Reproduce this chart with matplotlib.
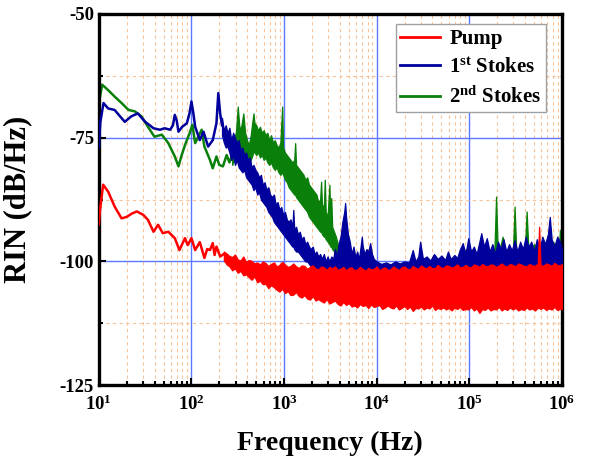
import numpy as np
import matplotlib
matplotlib.use('Agg')
import matplotlib.pyplot as plt
from matplotlib.ticker import MultipleLocator, FixedLocator, FuncFormatter, LogLocator, NullFormatter
from matplotlib.lines import Line2D

plt.rcParams['font.family'] = 'Liberation Serif'
plt.rcParams['font.weight'] = 'bold'
plt.rcParams['mathtext.fontset'] = 'custom'
plt.rcParams['mathtext.rm'] = 'Liberation Serif:bold'
plt.rcParams['mathtext.bf'] = 'Liberation Serif:bold'
plt.rcParams['mathtext.it'] = 'Liberation Serif:bold'
plt.rcParams['axes.unicode_minus'] = False

# ---- values: log10(frequency / Hz) and RIN in dB/Hz ----
# low-frequency part, a single clean trace
pump_logf = [1.00, 1.01, 1.046, 1.10, 1.17, 1.245, 1.30, 1.36, 1.41, 1.48, 1.53, 1.59, 1.64,
             1.69, 1.75, 1.82, 1.87, 1.93, 1.96, 2.00, 2.04, 2.09, 2.14, 2.17, 2.20, 2.23,
             2.25, 2.27, 2.31, 2.35]
pump_db = [-92.5, -90.0, -84.5, -85.9, -88.9, -91.3, -91.0, -90.3, -89.9, -90.6, -91.6, -94.0, -92.6,
           -94.3, -94.0, -95.3, -97.7, -95.3, -96.7, -95.3, -97.7, -96.1, -99.3, -97.5, -97.7, -96.3,
           -98.7, -97.0, -99.0, -98.5]

stokes1_logf = [1.00, 1.015, 1.05, 1.10, 1.17, 1.22, 1.28, 1.35, 1.42, 1.50, 1.55, 1.59, 1.66,
                1.71, 1.77, 1.80, 1.82, 1.84, 1.86, 1.90, 1.95, 1.98, 2.00, 2.02, 2.04, 2.09,
                2.13, 2.18, 2.23, 2.27, 2.29, 2.31, 2.33]
stokes1_db = [-77.0, -72.0, -68.0, -69.1, -69.4, -70.5, -71.8, -70.7, -70.1, -71.8, -72.5, -73.1, -73.4,
              -73.1, -73.4, -72.5, -70.4, -71.5, -73.8, -72.8, -72.1, -70.0, -67.7, -70.0, -72.8, -75.5,
              -73.8, -76.8, -75.5, -72.1, -66.0, -70.1, -72.5]

stokes2_logf = [1.00, 1.036, 1.10, 1.17, 1.245, 1.32, 1.39, 1.46, 1.53, 1.60, 1.68, 1.75, 1.82,
                1.86, 1.89, 1.93, 1.98, 2.01, 2.04, 2.11, 2.14, 2.20, 2.23, 2.27, 2.30, 2.34,
                2.38, 2.41, 2.44]
stokes2_db = [-68.0, -64.3, -65.4, -66.7, -68.0, -69.4, -69.7, -70.7, -72.8, -74.8, -74.4, -76.1, -78.8,
              -80.8, -78.8, -76.5, -74.1, -72.4, -76.1, -73.4, -76.8, -79.5, -81.2, -78.8, -80.5, -80.8,
              -78.5, -80.0, -78.5]

# noisy part: upper and lower edge of the trace at each frequency
pump_band_logf = [2.35, 2.38, 2.41, 2.44, 2.47, 2.50, 2.53, 2.56, 2.59, 2.62, 2.65, 2.68, 2.71,
                  2.74, 2.77, 2.80, 2.83, 2.86, 2.89, 2.92, 2.95, 2.98, 3.01, 3.04, 3.07, 3.10,
                  3.13, 3.16, 3.19, 3.22, 3.25, 3.28, 3.31, 3.34, 3.37, 3.40, 3.43, 3.46, 3.49,
                  3.52, 3.55, 3.58, 3.61, 3.64, 3.67, 3.70, 3.73, 3.76, 3.79, 3.82, 3.85, 3.88,
                  3.91, 3.94, 3.97, 4.00, 4.03, 4.06, 4.09, 4.12, 4.15, 4.18, 4.21, 4.24, 4.27,
                  4.30, 4.33, 4.36, 4.39, 4.42, 4.45, 4.48, 4.51, 4.54, 4.57, 4.60, 4.63, 4.66,
                  4.69, 4.72, 4.75, 4.78, 4.81, 4.84, 4.87, 4.90, 4.93, 4.96, 4.99, 5.02, 5.05,
                  5.08, 5.11, 5.14, 5.17, 5.20, 5.23, 5.26, 5.29, 5.32, 5.35, 5.38, 5.41, 5.44,
                  5.47, 5.50, 5.53, 5.56, 5.59, 5.62, 5.65, 5.68, 5.71, 5.74, 5.755, 5.77, 5.80,
                  5.83, 5.86, 5.89, 5.92, 5.95, 5.98, 6.00]
pump_band_hi = [-98.0, -98.4, -98.9, -99.1, -98.6, -99.6, -99.8, -99.0, -100.1, -99.7, -99.9, -100.4, -100.2,
                -100.6, -100.0, -100.3, -100.9, -100.5, -100.2, -101.0, -100.7, -100.1, -100.6, -101.1, -100.9, -100.4,
                -101.0, -101.3, -100.8, -100.9, -101.5, -101.1, -100.8, -101.4, -101.6, -101.0, -101.2, -101.7, -101.1,
                -101.4, -101.0, -101.7, -101.5, -101.1, -101.8, -101.3, -101.2, -101.8, -101.6, -101.1, -101.5, -101.9,
                -101.3, -101.6, -101.5, -101.0, -101.8, -101.4, -101.2, -101.7, -101.6, -101.0, -101.4, -101.7, -101.2,
                -101.0, -101.5, -101.6, -100.9, -101.3, -101.5, -100.8, -101.2, -101.4, -100.9, -101.4, -101.3, -100.7,
                -101.2, -101.3, -100.8, -100.9, -101.3, -101.0, -100.6, -101.2, -101.1, -100.7, -101.1, -101.2, -100.6,
                -100.8, -101.1, -100.5, -100.9, -101.0, -100.6, -100.7, -101.1, -100.8, -100.4, -100.9, -101.0, -100.5,
                -100.7, -101.0, -100.4, -100.6, -100.9, -101.0, -100.5, -100.8, -100.9, -100.4, -93.0, -100.7, -100.9,
                -100.4, -100.6, -100.9, -100.3, -100.7, -100.8, -100.5]
pump_band_lo = [-99.8, -100.6, -101.0, -101.8, -101.4, -102.3, -101.9, -102.8, -102.6, -103.2, -103.7, -103.0, -104.2,
                -103.9, -104.6, -104.5, -105.4, -104.8, -105.2, -105.7, -106.1, -105.5, -106.4, -106.0, -106.8, -106.7,
                -106.2, -107.0, -107.3, -106.8, -107.5, -107.7, -107.0, -107.9, -107.6, -108.0, -108.3, -107.6, -108.5,
                -108.2, -107.9, -108.6, -108.9, -108.2, -108.8, -108.4, -109.1, -108.9, -109.3, -108.6, -109.0, -108.8,
                -109.4, -108.7, -109.2, -109.0, -108.8, -109.6, -109.3, -108.9, -109.3, -109.5, -108.9, -109.7, -109.4,
                -109.0, -109.6, -109.1, -110.0, -109.4, -109.5, -109.1, -109.7, -109.3, -109.5, -108.9, -109.8, -109.4,
                -109.6, -109.3, -109.7, -109.4, -109.9, -109.3, -109.6, -109.2, -109.8, -109.6, -109.7, -109.2, -109.9,
                -109.5, -110.4, -109.6, -109.8, -109.3, -109.9, -109.6, -109.7, -109.2, -109.9, -109.5, -109.8, -109.3,
                -109.7, -109.4, -109.9, -109.6, -109.8, -109.3, -109.7, -109.5, -109.9, -109.4, -109.4, -109.6, -109.3,
                -109.8, -109.5, -109.7, -109.2, -109.8, -109.6, -109.6]

stokes1_band_logf = [2.33, 2.35, 2.37, 2.39, 2.41, 2.43, 2.45, 2.47, 2.49, 2.51, 2.53, 2.55, 2.57,
                     2.59, 2.61, 2.63, 2.65, 2.67, 2.69, 2.71, 2.73, 2.75, 2.77, 2.79, 2.81, 2.83,
                     2.85, 2.87, 2.89, 2.91, 2.93, 2.95, 2.97, 2.99, 3.01, 3.03, 3.05, 3.07, 3.09,
                     3.10, 3.11, 3.13, 3.15, 3.17, 3.19, 3.21, 3.23, 3.25, 3.27, 3.29, 3.31, 3.33,
                     3.35, 3.37, 3.39, 3.41, 3.43, 3.45, 3.47, 3.49, 3.51, 3.53, 3.55, 3.57, 3.59,
                     3.61, 3.63, 3.65, 3.66, 3.67, 3.69, 3.71, 3.73, 3.75, 3.77, 3.79, 3.81, 3.83,
                     3.84, 3.85, 3.87, 3.89, 3.91, 3.93, 3.95, 3.97, 4.00, 4.05, 4.10, 4.15, 4.20,
                     4.25, 4.30, 4.35, 4.39, 4.42, 4.45, 4.47, 4.50, 4.54, 4.58, 4.62, 4.66, 4.70,
                     4.74, 4.77, 4.80, 4.84, 4.87, 4.90, 4.93, 4.96, 4.99, 5.02, 5.05, 5.08, 5.11,
                     5.13, 5.16, 5.19, 5.22, 5.25, 5.28, 5.31, 5.34, 5.37, 5.40, 5.43, 5.46, 5.49,
                     5.52, 5.55, 5.58, 5.61, 5.64, 5.67, 5.70, 5.73, 5.76, 5.79, 5.82, 5.85, 5.87,
                     5.89, 5.92, 5.95, 5.98, 6.00]
stokes1_band_hi = [-71.0, -73.5, -72.5, -74.0, -73.0, -75.5, -74.0, -75.0, -76.0, -75.5, -77.5, -77.0, -78.5,
                   -78.0, -79.5, -79.0, -81.0, -80.5, -81.5, -82.0, -83.0, -82.5, -84.5, -84.0, -85.5, -85.0,
                   -86.5, -87.0, -86.5, -88.5, -88.0, -89.5, -89.0, -90.5, -90.0, -91.5, -92.0, -91.5, -93.0,
                   -89.6, -93.5, -93.0, -94.5, -94.0, -95.5, -95.0, -96.5, -96.0, -97.0, -97.5, -97.0, -98.5,
                   -98.0, -99.0, -98.5, -99.5, -98.5, -100.0, -99.0, -100.0, -99.0, -99.5, -97.5, -99.0, -96.3,
                   -95.0, -92.0, -90.0, -88.2, -91.0, -94.5, -96.0, -98.5, -97.0, -99.0, -98.0, -99.5, -96.5,
                   -95.0, -97.0, -98.5, -97.5, -98.0, -96.3, -98.5, -99.5, -100.0, -100.5, -100.2, -100.6, -100.0,
                   -100.4, -100.0, -100.2, -97.7, -100.0, -99.0, -96.0, -99.5, -99.0, -99.8, -98.5, -99.5, -98.8,
                   -99.7, -98.0, -99.5, -98.7, -99.3, -97.5, -96.3, -98.5, -95.3, -98.0, -97.0, -98.5, -96.0,
                   -94.3, -97.0, -95.3, -98.0, -96.5, -98.5, -96.0, -97.5, -95.5, -98.0, -96.5, -97.8, -95.7,
                   -98.0, -96.0, -97.5, -95.0, -97.0, -96.0, -98.0, -95.5, -97.5, -95.0, -96.5, -94.5, -91.0,
                   -95.5, -97.0, -95.0, -96.0, -97.5]
stokes1_band_lo = [-74.5, -76.0, -77.0, -76.8, -78.0, -79.5, -78.5, -80.5, -79.5, -81.0, -81.5, -82.0, -81.5,
                   -83.0, -83.5, -84.0, -84.5, -85.6, -85.0, -86.5, -86.0, -87.5, -88.0, -88.5, -89.0, -90.0,
                   -90.5, -91.0, -92.0, -92.5, -93.0, -93.5, -94.0, -94.5, -95.0, -95.5, -96.0, -96.5, -97.0,
                   -97.0, -97.5, -98.0, -98.0, -98.5, -99.0, -99.5, -100.0, -100.0, -100.5, -101.0, -101.0, -101.5,
                   -102.0, -102.0, -102.5, -102.5, -103.0, -103.0, -103.5, -103.5, -103.5, -104.0, -104.0, -104.0, -103.5,
                   -103.0, -103.0, -103.0, -103.0, -103.0, -103.5, -104.0, -104.0, -104.0, -104.0, -104.0, -104.0, -104.0,
                   -104.0, -104.0, -104.0, -104.0, -104.0, -104.0, -104.0, -104.0, -104.0, -104.5, -104.5, -104.5, -104.5,
                   -104.5, -104.5, -104.5, -104.5, -104.5, -104.5, -104.5, -104.5, -104.5, -104.5, -104.5, -104.5, -104.5,
                   -104.5, -104.5, -104.5, -104.5, -104.5, -104.5, -104.5, -104.5, -104.5, -104.5, -104.5, -104.5, -104.5,
                   -104.5, -104.5, -104.5, -104.5, -104.5, -104.5, -104.5, -104.5, -104.5, -104.5, -104.5, -104.5, -104.5,
                   -104.5, -104.5, -104.5, -104.5, -104.5, -104.5, -104.5, -104.5, -104.5, -104.5, -104.5, -104.5, -104.5,
                   -104.5, -104.5, -104.5, -104.5, -104.5]

stokes2_band_logf = [2.44, 2.46, 2.48, 2.50, 2.52, 2.54, 2.56, 2.58, 2.60, 2.62, 2.64, 2.66, 2.67,
                     2.68, 2.70, 2.72, 2.74, 2.76, 2.78, 2.80, 2.82, 2.84, 2.86, 2.88, 2.90, 2.92,
                     2.94, 2.96, 2.98, 2.99, 3.01, 3.03, 3.05, 3.07, 3.09, 3.11, 3.12, 3.13, 3.15,
                     3.17, 3.19, 3.21, 3.23, 3.25, 3.27, 3.29, 3.31, 3.33, 3.35, 3.37, 3.39, 3.40,
                     3.41, 3.43, 3.44, 3.45, 3.47, 3.49, 3.50, 3.51, 3.52, 3.54, 3.56, 3.58, 3.60,
                     3.62, 3.64, 3.66, 3.72, 3.76, 3.80, 3.85, 3.90, 3.95, 4.00, 4.10, 4.20, 4.30,
                     4.40, 4.50, 4.60, 4.70, 4.80, 4.90, 4.97, 5.00, 5.10, 5.20, 5.27, 5.29, 5.31,
                     5.36, 5.40, 5.47, 5.49, 5.51, 5.55, 5.60, 5.62, 5.64, 5.70, 5.75, 5.80, 5.85,
                     5.90, 5.97, 5.98, 6.00]
stokes2_band_hi = [-76.5, -75.0, -74.0, -68.7, -73.5, -72.5, -70.1, -74.0, -75.5, -76.5, -74.5, -71.5, -70.1,
                   -72.0, -72.5, -73.5, -72.8, -74.0, -73.5, -74.5, -74.0, -75.5, -74.5, -76.0, -75.5, -76.5,
                   -77.0, -76.0, -68.7, -77.0, -78.0, -78.5, -79.0, -79.5, -80.0, -79.5, -76.1, -80.5, -81.0,
                   -81.5, -82.0, -82.5, -83.5, -83.0, -84.5, -85.0, -85.5, -86.0, -86.5, -88.0, -87.5, -83.9,
                   -88.5, -89.0, -83.5, -90.0, -91.0, -84.5, -91.5, -87.2, -93.0, -94.0, -95.0, -96.5, -97.0,
                   -98.0, -99.5, -100.0, -100.5, -100.2, -100.8, -100.4, -100.8, -100.5, -100.8, -100.5, -100.8, -100.5,
                   -100.6, -100.3, -100.0, -99.8, -99.5, -99.0, -97.5, -99.5, -99.0, -98.5, -99.0, -86.9, -99.0,
                   -95.0, -98.5, -99.0, -88.9, -99.0, -98.0, -98.0, -89.9, -98.0, -96.5, -98.0, -97.0, -98.0,
                   -96.0, -97.0, -93.6, -97.0]
stokes2_band_lo = [-80.5, -79.5, -80.0, -78.0, -79.0, -78.5, -79.0, -80.0, -81.0, -80.2, -79.5, -78.5, -77.5,
                   -78.0, -78.5, -78.0, -79.0, -78.5, -79.5, -79.0, -80.0, -80.5, -80.0, -81.0, -81.5, -81.0,
                   -82.0, -82.5, -82.0, -82.5, -83.5, -84.0, -85.0, -85.5, -86.0, -86.5, -86.5, -87.0, -87.5,
                   -88.0, -88.5, -89.0, -89.5, -90.0, -91.0, -91.5, -92.0, -92.5, -93.0, -93.5, -94.0, -94.0,
                   -94.5, -95.0, -95.0, -95.5, -96.0, -96.5, -97.0, -97.0, -97.5, -98.0, -99.0, -100.0, -100.5,
                   -101.0, -101.5, -102.0, -102.5, -102.5, -103.0, -103.0, -103.0, -103.0, -103.0, -103.0, -103.0, -103.0,
                   -103.0, -103.0, -103.0, -103.0, -103.0, -103.0, -103.0, -103.0, -103.0, -103.0, -103.0, -103.0, -103.0,
                   -103.0, -103.0, -103.0, -103.0, -103.0, -103.0, -103.0, -103.0, -103.0, -103.0, -103.0, -103.0, -103.0,
                   -103.0, -103.0, -103.0, -103.0]

labels = ['Pump', '1$^{\\mathrm{st}}$ Stokes', '2$^{\\mathrm{nd}}$ Stokes']
colors = ['#ff0000', '#00009c', '#0a800a']
y_ticks = [-125, -100, -75, -50]
x_ticks = [1e1, 1e2, 1e3, 1e4, 1e5, 1e6]

fig = plt.figure(figsize=(5.92, 4.63), dpi=100)
ax = fig.add_axes([0.167, 0.168, 0.782, 0.802])

series = [
    (stokes2_logf, stokes2_db, stokes2_band_logf, stokes2_band_hi, stokes2_band_lo, colors[2], 2),
    (stokes1_logf, stokes1_db, stokes1_band_logf, stokes1_band_hi, stokes1_band_lo, colors[1], 3),
    (pump_logf, pump_db, pump_band_logf, pump_band_hi, pump_band_lo, colors[0], 4),
]
for lf, db, blf, hi, lo, c, z in series:
    ax.plot(10 ** np.array(lf), db, color=c, lw=1.8, zorder=z)
    ax.fill_between(10 ** np.array(blf), lo, hi, color=c, lw=0.9, zorder=z)

ax.set_xscale('log')
ax.set_xlim(10, 1e6)
ax.set_ylim(-125, -50)
ax.xaxis.set_major_locator(FixedLocator(x_ticks))
ax.xaxis.set_minor_locator(LogLocator(base=10, subs=np.arange(2, 10)))
ax.xaxis.set_minor_formatter(NullFormatter())
ax.xaxis.set_major_formatter(FuncFormatter(lambda v, p: '$10^{%d}$' % round(np.log10(v))))
ax.yaxis.set_major_locator(FixedLocator(y_ticks))
ax.yaxis.set_minor_locator(MultipleLocator(12.5))

ax.grid(which='major', color='#5b78ff', lw=1.0, zorder=0)
ax.grid(which='minor', color='#f7c49a', lw=0.8, ls=(0, (3, 3)), zorder=0)
ax.set_axisbelow(True)

ax.tick_params(which='both', direction='in', labelsize=13.5, width=1.5, top=False, right=False)
ax.tick_params(which='major', length=5)
ax.tick_params(which='minor', length=3)
ax.tick_params(axis='x', which='major', pad=7)
for s in ax.spines.values():
    s.set_linewidth(2.4)

ax.set_xlabel('Frequency (Hz)', fontsize=20, fontweight='bold', labelpad=12)
ax.set_ylabel('RIN (dB/Hz)', fontsize=22, fontweight='bold')
ax.yaxis.set_label_coords(-0.145, 0.5)

handles = [Line2D([], [], color=c, lw=2) for c in colors]
leg = ax.legend(handles, labels, loc='upper right', bbox_to_anchor=(0.966, 0.972),
                fontsize=15, fancybox=False, framealpha=1, edgecolor='#a0a0a0',
                handlelength=1.9, labelspacing=0.42, borderpad=0.22, handletextpad=0.45,
                borderaxespad=0)
leg.get_frame().set_linewidth(1.0)

fig.savefig('out.png', dpi=100)
